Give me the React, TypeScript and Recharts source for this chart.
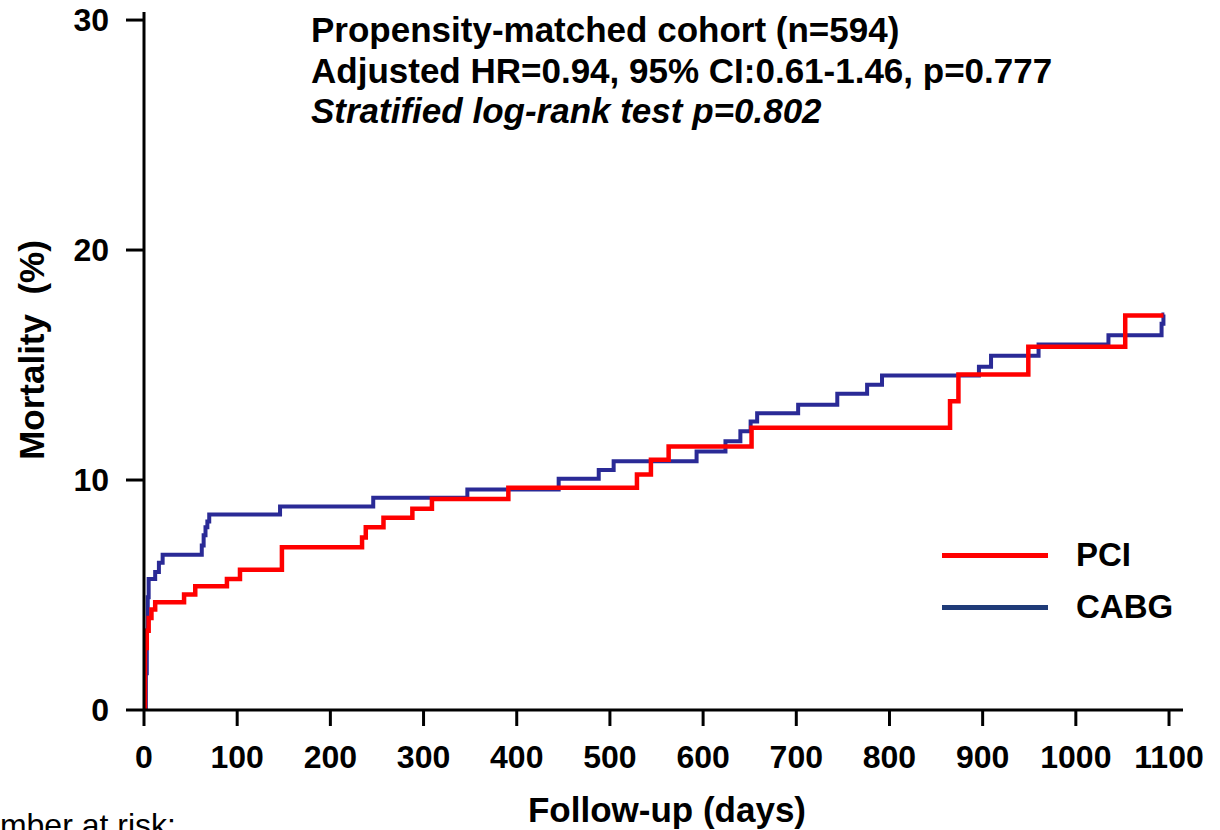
import { LineChart, Line, XAxis, YAxis, Legend } from 'recharts'

// Kaplan-Meier steps (days, cumulative mortality %)
const pciDays = [0, 1, 3, 5, 8, 12, 43, 55, 89, 103, 148, 234, 238, 257, 288, 309, 391, 529, 544, 563, 652, 865, 874, 949, 1053, 1094]
const pciMortality = [0, 2.7, 3.45, 4.0, 4.37, 4.69, 5.02, 5.38, 5.7, 6.1, 7.08, 7.5, 7.95, 8.36, 8.75, 9.18, 9.66, 10.24, 10.88, 11.46, 12.27, 13.43, 14.59, 15.8, 17.15, 17.15]

const cabgDays = [0, 2, 3, 4, 5, 12, 16, 20, 62, 64, 66, 68, 70, 146, 246, 347, 445, 488, 504, 593, 624, 640, 651, 658, 702, 744, 776, 792, 896, 909, 960, 1035, 1092, 1094, 1095]
const cabgMortality = [0, 1.6, 3.45, 4.9, 5.7, 6.0, 6.4, 6.75, 7.15, 7.6, 7.95, 8.2, 8.5, 8.85, 9.23, 9.59, 10.05, 10.44, 10.82, 11.24, 11.69, 12.12, 12.54, 12.9, 13.27, 13.75, 14.14, 14.54, 14.93, 15.4, 15.89, 16.3, 16.8, 17.2, 17.2]

const xTicks = [0, 100, 200, 300, 400, 500, 600, 700, 800, 900, 1000, 1100]
const yTicks = [0, 10, 20, 30]

const titleLines = [
  'Propensity-matched cohort (n=594)',
  'Adjusted HR=0.94, 95% CI:0.61-1.46, p=0.777',
  'Stratified log-rank test p=0.802',
]

const RED = '#ff0000'
const BLUE = '#2a2a96'
const LEGEND_BLUE = '#1f3b78'
const FONT = 'Arial, "Liberation Sans", sans-serif'

const pciData = pciDays.map((day, i) => ({ day, pct: pciMortality[i] }))
const cabgData = cabgDays.map((day, i) => ({ day, pct: cabgMortality[i] }))

const legendItems = [
  { name: 'PCI', color: RED },
  { name: 'CABG', color: LEGEND_BLUE },
]

function KmLegend() {
  return (
    <div style={{ fontFamily: FONT }}>
      {legendItems.map(item => (
        <div key={item.name} style={{ display: 'flex', alignItems: 'center', height: 52 }}>
          <div style={{ width: 106, height: 5, background: item.color }} />
          <span style={{ marginLeft: 28, fontSize: 33, fontWeight: 'bold', color: '#000' }}>{item.name}</span>
        </div>
      ))}
    </div>
  )
}

const tickStyle = { fontSize: 32, fontWeight: 'bold', fill: '#000', fontFamily: FONT }

export default function App() {
  return (
    <div style={{ position: 'absolute', left: 0, top: 0, width: 1220, height: 830, background: '#fff', overflow: 'hidden' }}>
      <LineChart width={1220} height={830} margin={{ top: 12, right: 37, bottom: 0, left: 0 }}>
        <XAxis
          type="number"
          dataKey="day"
          domain={[0, 1115]}
          ticks={xTicks}
          allowDataOverflow
          height={120}
          tick={tickStyle}
          tickSize={16}
          tickMargin={19}
          axisLine={{ stroke: '#000', strokeWidth: 3 }}
          tickLine={{ stroke: '#000', strokeWidth: 3 }}
        />
        <YAxis
          type="number"
          domain={[0, 30.35]}
          ticks={yTicks}
          allowDataOverflow
          width={144}
          tick={tickStyle}
          tickSize={18}
          tickMargin={17}
          axisLine={{ stroke: '#000', strokeWidth: 3 }}
          tickLine={{ stroke: '#000', strokeWidth: 3 }}
        />
        {/* middle/center alignment keeps the legend from shrinking the plot area */}
        <Legend
          layout="horizontal"
          verticalAlign="middle"
          align="center"
          content={<KmLegend />}
          wrapperStyle={{ position: 'absolute', left: 942, top: 529, width: 'auto' }}
        />
        <Line data={cabgData} dataKey="pct" name="CABG" type="stepAfter" stroke={BLUE} strokeWidth={4} dot={false} isAnimationActive={false} />
        <Line data={pciData} dataKey="pct" name="PCI" type="stepAfter" stroke={RED} strokeWidth={4.5} dot={false} isAnimationActive={false} />
      </LineChart>
      <svg width={1220} height={830} style={{ position: 'absolute', left: 0, top: 0, pointerEvents: 'none' }}>
        <g fontFamily={FONT} fontWeight="bold" fontSize={35} fill="#000">
          <text x={311} y={42}>{titleLines[0]}</text>
          <text x={311} y={83}>{titleLines[1]}</text>
          <text x={311} y={123} fontStyle="italic">{titleLines[2]}</text>
          <text x={667} y={822} textAnchor="middle">Follow-up (days)</text>
          <text x={44} y={350} textAnchor="middle" transform="rotate(-90 44 350)" style={{ whiteSpace: 'pre' }}>
            Mortality  (%)
          </text>
        </g>
        <text x={-41} y={836} fontFamily={FONT} fontSize={32} fill="#000">Number at risk:</text>
      </svg>
    </div>
  )
}
